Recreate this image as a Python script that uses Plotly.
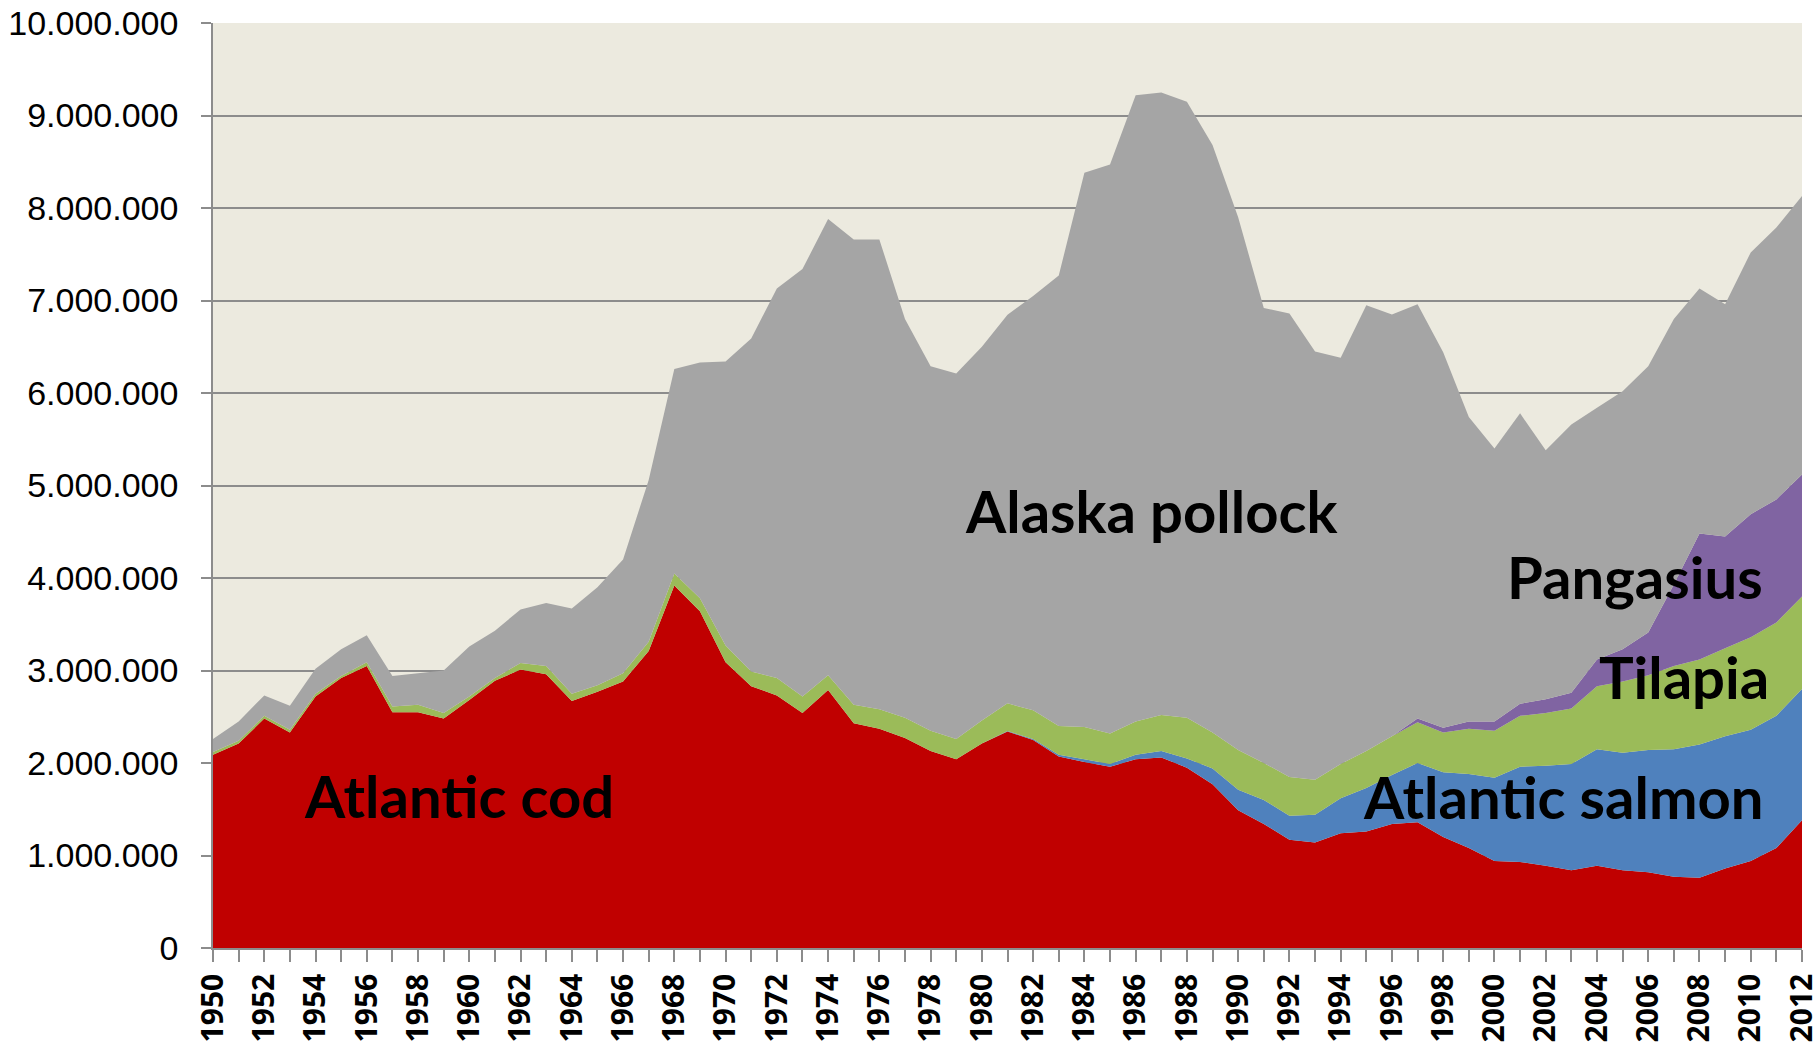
import plotly.graph_objects as go

years = list(range(1950, 2013))

# catches / production in thousand tonnes
atlantic_cod = [
    2090, 2210, 2480, 2330, 2720, 2920, 3050, 2550, 2550, 2480,
    2680, 2890, 3010, 2960, 2670, 2770, 2880, 3210, 3920, 3640,
    3090, 2830, 2730, 2540, 2790, 2430, 2370, 2270, 2130, 2040,
    2210, 2340, 2250, 2070, 2010, 1960, 2040, 2060, 1950, 1770,
    1490, 1340, 1170, 1140, 1240, 1260, 1340, 1360, 1200, 1080,
    940, 930, 890, 840, 890, 840, 820, 770, 760, 860,
    940, 1080, 1380]
atlantic_salmon = [
    0, 0, 0, 0, 0, 0, 0, 0, 0, 0,
    0, 0, 0, 0, 0, 0, 0, 0, 0, 0,
    0, 0, 0, 0, 0, 0, 0, 0, 0, 0,
    0, 5, 10, 20, 30, 30, 50, 70, 100, 170,
    220, 260, 260, 300, 380, 470, 530, 640, 700, 800,
    900, 1030, 1080, 1150, 1260, 1270, 1320, 1380, 1440, 1430,
    1420, 1430, 1420]
tilapia = [
    30, 30, 30, 30, 30, 20, 40, 60, 80, 60,
    40, 30, 70, 90, 80, 70, 90, 100, 130, 140,
    180, 160, 190, 180, 160, 200, 210, 220, 220, 220,
    250, 300, 310, 310, 350, 330, 360, 390, 440, 390,
    430, 400, 420, 380, 370, 400, 420, 440, 430, 490,
    510, 550, 570, 600, 680, 770, 810, 900, 920, 950,
    1000, 1010, 1000]
pangasius = [
    0, 0, 0, 0, 0, 0, 0, 0, 0, 0,
    0, 0, 0, 0, 0, 0, 0, 0, 0, 0,
    0, 0, 0, 0, 0, 0, 0, 0, 0, 0,
    0, 0, 0, 0, 0, 0, 0, 0, 0, 0,
    0, 0, 0, 0, 0, 0, 0, 40, 50, 80,
    100, 130, 150, 170, 290, 350, 460, 880, 1360, 1210,
    1330, 1330, 1320]
alaska_pollock = [
    140, 210, 220, 260, 270, 290, 290, 330, 340, 460,
    540, 510, 580, 680, 920, 1060, 1230, 1750, 2210, 2550,
    3070, 3600, 4210, 4620, 4930, 5030, 5080, 4310, 3940, 3950,
    4040, 4200, 4480, 4870, 5990, 6150, 6770, 6730, 6660, 6350,
    5760, 4920, 5010, 4630, 4390, 4820, 4560, 4480, 4060, 3290,
    2950, 3140, 2690, 2900, 2720, 2790, 2880, 2870, 2650, 2510,
    2830, 2940, 3010]

series_names = ["Atlantic cod", "Atlantic salmon", "Tilapia", "Pangasius", "Alaska pollock"]
series_values = [atlantic_cod, atlantic_salmon, tilapia, pangasius, alaska_pollock]
series_colors = ["#C00000", "#4F81BD", "#9BBB59", "#8064A2", "#A5A5A5"]

# label positions (year, tonnes)
label_texts = ["Atlantic cod", "Alaska pollock", "Pangasius", "Tilapia", "Atlantic salmon"]
label_x = [1959.6, 1986.6, 2005.5, 2007.4, 2002.7]
label_y = [1.65e6, 4.73e6, 4.02e6, 2.94e6, 1.64e6]

y_ticks = list(range(0, 10_000_001, 1_000_000))
x_ticktext = [str(y) if y % 2 == 0 else "" for y in years]

fig = go.Figure()
for name, vals, col in zip(series_names, series_values, series_colors):
    fig.add_trace(go.Scatter(
        x=years, y=[v * 1000 for v in vals], name=name,
        mode="none", stackgroup="one", fillcolor=col,
        line=dict(width=0), hoverinfo="x+y+name",
    ))

for t, x, y in zip(label_texts, label_x, label_y):
    fig.add_annotation(x=x, y=y, xref="x", yref="y", text=t, showarrow=False,
                       font=dict(family="Lato", size=58, color="black", weight="bold"))

grid_col = "#8C8C8C"
fig.update_layout(
    width=1819, height=1046,
    margin=dict(l=213, r=17, t=23, b=98),
    paper_bgcolor="white", plot_bgcolor="#ECEADF",
    showlegend=False,
    separators=",.",
    xaxis=dict(
        range=[1950, 2012], tickmode="array", tickvals=years, ticktext=x_ticktext,
        tickangle=-90, ticks="outside", ticklen=12, tickcolor=grid_col, tickwidth=1.5,
        showline=True, linecolor=grid_col, linewidth=1.5, showgrid=False, zeroline=False,
        tickfont=dict(family="Open Sans", size=30, color="black", weight="bold"),
        ticklabelstandoff=0, automargin=False, ticklabeloverflow="allow",
    ),
    yaxis=dict(
        range=[0, 10_000_000], tickmode="array", tickvals=y_ticks,
        tickformat=",d", ticks="outside", ticklen=10, tickcolor=grid_col, tickwidth=1.5,
        showline=True, linecolor=grid_col, linewidth=1.5,
        showgrid=True, gridcolor=grid_col, gridwidth=1.5, zeroline=False,
        tickfont=dict(family="Liberation Sans", size=34, color="black"),
        ticklabelstandoff=16, automargin=False, ticklabeloverflow="allow",
    ),
)

fig.write_html(
    "out.html",
    config={"displayModeBar": False},
    post_script="document.body.style.margin='0';document.body.style.overflow='hidden';",
)
